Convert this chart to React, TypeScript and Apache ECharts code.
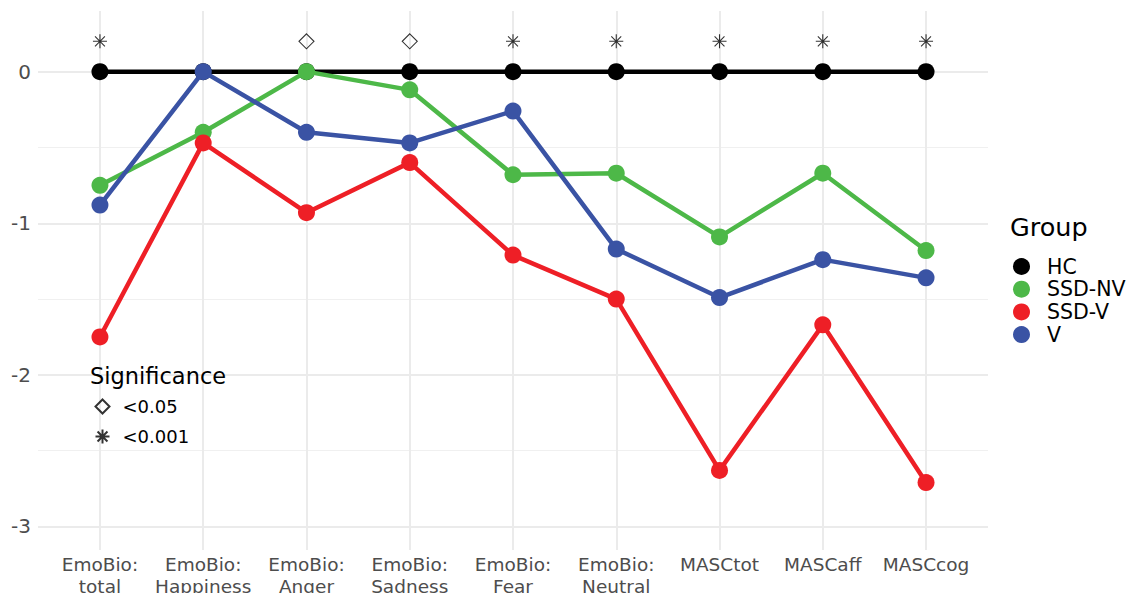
import React, { useEffect, useRef } from 'react';
import * as echarts from 'echarts';

const categories = [
  'EmoBio:\ntotal',
  'EmoBio:\nHappiness',
  'EmoBio:\nAnger',
  'EmoBio:\nSadness',
  'EmoBio:\nFear',
  'EmoBio:\nNeutral',
  'MASCtot',
  'MASCaff',
  'MASCcog',
];
const groupNames = ['HC', 'SSD-NV', 'SSD-V', 'V'];
const hcValues = [0, 0, 0, 0, 0, 0, 0, 0, 0];
const ssdNvValues = [-0.75, -0.4, 0, -0.12, -0.68, -0.67, -1.09, -0.67, -1.18];
const ssdVValues = [-1.75, -0.47, -0.93, -0.6, -1.21, -1.5, -2.63, -1.67, -2.71];
const vValues = [-0.88, 0, -0.4, -0.47, -0.26, -1.17, -1.49, -1.24, -1.36];
const significance = ['<0.001', '', '<0.05', '<0.05', '<0.001', '<0.001', '<0.001', '<0.001', '<0.001'];
const significanceY = 0.2;
const significanceLevels = ['<0.05', '<0.001'];
const yMajorBreaks = [-3, -2, -1, 0];
const yMinorBreaks = [-2.5, -1.5, -0.5];

const groupColors = ['#000000', '#4DB848', '#EE1F26', '#3A53A4'];
const FONT = 'DejaVu Sans';
const ASTERISK = 'path://M7,0L7,14M0,7L14,7M2.05,2.05L11.95,11.95M2.05,11.95L11.95,2.05';

export default function App() {
  const ref = useRef<HTMLDivElement>(null);
  useEffect(() => {
    const chart = echarts.init(ref.current!, null, { renderer: 'svg' });
    const groupValues = [hcValues, ssdNvValues, ssdVValues, vValues];

    const gridLines: any[] = [];
    yMajorBreaks.forEach((y) => gridLines.push({ yAxis: y, lineStyle: { color: '#EBEBEB', width: 2, type: 'solid' } }));
    yMinorBreaks.forEach((y) => gridLines.push({ yAxis: y, lineStyle: { color: '#F0F0F0', width: 1, type: 'solid' } }));
    categories.forEach((_, i) => gridLines.push({ xAxis: i, lineStyle: { color: '#EBEBEB', width: 2, type: 'solid' } }));

    const lineSeries = groupNames.map((name, gi) => ({
      name,
      type: 'line',
      data: groupValues[gi].map((v, i) => [i, v]),
      symbol: 'circle',
      symbolSize: 17,
      showSymbol: true,
      lineStyle: { color: groupColors[gi], width: 4.5 },
      itemStyle: { color: groupColors[gi] },
      z: 3 + gi,
      silent: true,
    }));

    const sigSeries = significanceLevels.map((lvl) => ({
      name: lvl,
      type: 'scatter',
      data: significance
        .map((s, i) => (s === lvl ? [i, significanceY] : null))
        .filter((d) => d !== null),
      symbol: lvl === '<0.05' ? 'diamond' : ASTERISK,
      symbolSize: lvl === '<0.05' ? [15, 15] : [14, 14],
      itemStyle: { color: 'none', borderColor: '#000000', borderWidth: 1.1 },
      z: 8,
      silent: true,
    }));

    const option: any = {
      animation: false,
      backgroundColor: '#FFFFFF',
      textStyle: { fontFamily: FONT },
      title: [
        {
          text: 'Group',
          left: 1010,
          top: 214,
          padding: 0,
          textStyle: { fontFamily: FONT, fontSize: 25.5, fontWeight: 'normal', color: '#000000' },
        },
        {
          text: 'Significance',
          left: 90,
          top: 364,
          padding: 0,
          textStyle: { fontFamily: FONT, fontSize: 22.5, fontWeight: 'normal', color: '#000000' },
        },
      ],
      legend: [
        {
          data: groupNames,
          orient: 'vertical',
          left: 1013,
          top: 256,
          padding: 0,
          itemWidth: 17,
          itemHeight: 17,
          itemGap: 1.7,
          icon: 'circle',
          selectedMode: false,
          textStyle: { fontFamily: FONT, fontSize: 20.5, color: '#000000', padding: [0, 0, 0, 12] },
        },
        {
          data: significanceLevels,
          orient: 'vertical',
          left: 93,
          top: 397,
          padding: 0,
          itemWidth: 14,
          itemHeight: 14,
          itemGap: 11,
          selectedMode: false,
          textStyle: { fontFamily: FONT, fontSize: 18, color: '#000000', padding: [0, 0, 0, 8] },
        },
      ],
      grid: {
        left: 38,
        right: 144,
        top: 11,
        bottom: 43,
        containLabel: false,
        outerBoundsMode: 'none',
      },
      xAxis: {
        type: 'value',
        min: -0.6,
        max: 8.6,
        splitNumber: 9,
        axisLine: { show: false },
        axisTick: { show: false },
        splitLine: { show: false },
        axisLabel: {
          margin: 3,
          fontFamily: FONT,
          fontSize: 18.5,
          lineHeight: 22,
          color: '#4D4D4D',
          showMinLabel: true,
          showMaxLabel: true,
          formatter: (v: number) => {
            const r = Math.round(v);
            return Math.abs(v - r) < 1e-6 && r >= 0 && r < categories.length ? categories[r] : '';
          },
        },
      },
      yAxis: {
        type: 'value',
        min: -3.155,
        max: 0.4,
        splitNumber: 7,
        axisLine: { show: false },
        axisTick: { show: false },
        splitLine: { show: false },
        axisLabel: {
          margin: 7,
          fontFamily: FONT,
          fontSize: 20,
          color: '#4D4D4D',
          formatter: (v: number) => {
            const r = Math.round(v);
            return Math.abs(v - r) < 1e-6 && yMajorBreaks.includes(r) ? String(r === 0 ? 0 : r) : '';
          },
        },
      },
      series: [
        {
          name: 'grid',
          type: 'line',
          data: [],
          z: 0,
          silent: true,
          markLine: {
            z: 0,
            silent: true,
            symbol: ['none', 'none'],
            label: { show: false },
            emphasis: { disabled: true },
            data: gridLines,
          },
        },
        ...lineSeries,
        ...sigSeries,
      ],
    };
    chart.setOption(option);
    return () => chart.dispose();
  }, []);
  return <div ref={ref} style={{ position: 'fixed', left: 0, top: 0, width: 1132, height: 593 }} />;
}
